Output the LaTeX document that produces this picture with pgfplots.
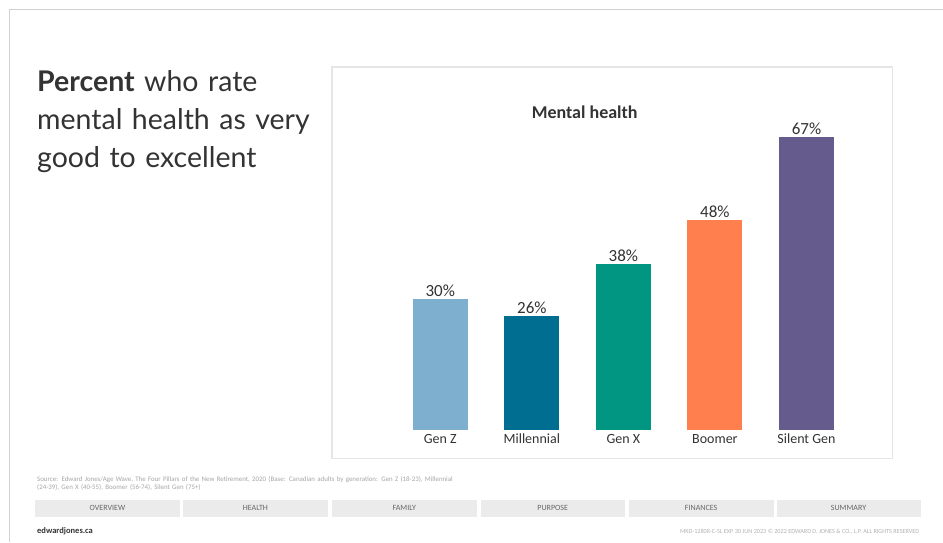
\documentclass[border=0pt]{standalone}
\usepackage{pgfplots}
\pgfplotsset{compat=1.18}
\usepackage{fontspec}
\setmainfont{Carlito}
\newfontfamily\latofont{Lato}
\definecolor{cGenZ}{HTML}{7FAFCF}
\definecolor{cMill}{HTML}{006E91}
\definecolor{cGenX}{HTML}{009682}
\definecolor{cBoom}{HTML}{FF7F4F}
\definecolor{cSil}{HTML}{655B8C}
\definecolor{txt}{HTML}{333333}
\definecolor{navbg}{HTML}{EBEBEB}
\begin{document}
\begin{tikzpicture}[x=1pt,y=1pt]
% page
\fill[white] (0,0) rectangle (943,542);
\draw[black!18, line width=1pt] (10,0) -- (10,532) -- (943,532);
% left title
\node[anchor=north west, inner sep=0pt, text width=300pt, align=left, text=txt,
      font=\latofont\fontsize{28.5}{38}\selectfont] at (37,472)
  {\textbf{Percent} who rate\\ mental health as very\\ good to excellent};
% panel
\draw[black!10, line width=1.5pt, fill=white] (332,83) rectangle (893,475);
\node[font=\bfseries\fontsize{18}{20}\selectfont, text=txt] at (585,430) {Mental health};
% chart
\begin{axis}[
  at={(394.7pt,112pt)}, anchor=south west,
  x=91.6pt, y=4.37pt, scale only axis,
  xmin=-0.5, xmax=4.5, ymin=0, ymax=70,
  axis line style={draw=none},
  ytick=\empty,
  xtick={0,1,2,3,4},
  xticklabels={Gen Z, Millennial, Gen X, Boomer, Silent Gen},
  xtick style={draw=none},
  major tick length=0pt,
  xticklabel style={font=\fontsize{14}{15}\selectfont, text=txt, text height=9.5pt, text depth=3pt, yshift=-1pt},
  ybar, bar width=55pt, bar shift=0pt,
  /pgf/number format/assume math mode=true,
  nodes near coords={\pgfmathprintnumber{\pgfplotspointmeta}\%},
  every node near coord/.append style={font=\fontsize{17}{18}\selectfont, text=txt, yshift=-1pt},
  clip=false,
]
\addplot[fill=cGenZ, draw=none] coordinates {(0,30)};
\addplot[fill=cMill, draw=none] coordinates {(1,26)};
\addplot[fill=cGenX, draw=none] coordinates {(2,38)};
\addplot[fill=cBoom, draw=none] coordinates {(3,48)};
\addplot[fill=cSil, draw=none] coordinates {(4,67)};
\end{axis}
% source
\node[anchor=north west, inner sep=0pt, text width=480pt, align=left, text=black!35,
      font=\fontsize{6.9}{7.5}\selectfont] at (37,65)
  {Source: Edward Jones/Age Wave, The Four Pillars of the New Retirement, 2020 (Base: Canadian adults by generation: Gen Z (18-23), Millennial\\ (24-39), Gen X (40-55), Boomer (56-74), Silent Gen (75+)};
% nav
\foreach \a/\b/\t in {35/180/OVERVIEW, 183/328/HEALTH, 332/477/FAMILY, 481/625/PURPOSE, 629/774/FINANCES, 777/921/SUMMARY}{
  \fill[navbg] (\a,25) rectangle (\b,42);
  \node[font=\fontsize{8}{9}\selectfont, text=black!60] at ({(\a+\b)/2},33.5) {\t};
}
\node[anchor=west, inner sep=0pt, font=\bfseries\fontsize{8.5}{9}\selectfont, text=txt] at (37,10) {edwardjones.ca};
\node[anchor=east, inner sep=0pt, font=\fontsize{6.2}{7}\selectfont, text=black!30] at (920,10)
  {MKD-12808-C-SL EXP 30 JUN 2023 \textcopyright{} 2022 EDWARD D. JONES \& CO., L.P. ALL RIGHTS RESERVED};
\end{tikzpicture}
\end{document}
